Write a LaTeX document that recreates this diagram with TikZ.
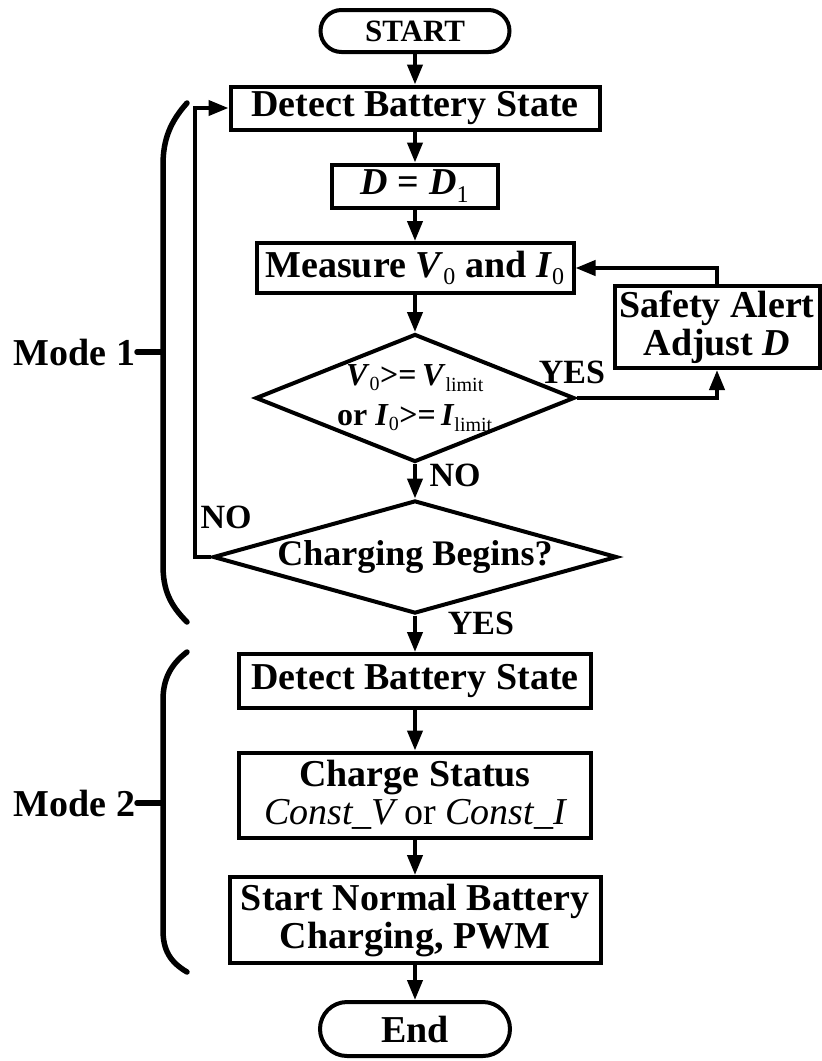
\documentclass[tikz,border=0pt]{standalone}
\usepackage{fontspec}
\setmainfont{Liberation Serif}
\usetikzlibrary{arrows.meta,shapes.geometric}
\newcommand{\bigtxt}{\fontsize{38}{38}\selectfont\bfseries}
\newcommand{\midtxt}{\fontsize{34}{34}\selectfont\bfseries}
\newcommand{\sub}[2][24]{\textsubscript{\mdseries\fontsize{#1}{#1}\selectfont #2}}

\begin{document}
\begin{tikzpicture}[x=1pt,y=-1pt,>={Triangle[length=20pt,width=15pt]},line width=4pt,
  term/.style={draw,rounded corners=21pt,minimum width=189pt,minimum height=42pt,inner sep=0pt,font=\fontsize{31}{31}\selectfont\bfseries},
  proc/.style={draw,minimum height=43pt,inner sep=0pt,align=center,font=\bigtxt},
  decision/.style={draw,diamond,inner sep=0pt},
  lbl/.style={inner sep=0pt,font=\midtxt},
  brace/.style={line width=5.5pt,line cap=round}]
  \useasboundingbox (0,0) rectangle (822,1061);
  % mode 1
  \node[term] (start) at (415,31) {START};
  \node[proc,minimum width=369pt] (det1) at (415,108) {Detect Battery State};
  \node[proc,minimum width=166pt] (dset) at (415,186) {\textit{D} = \textit{D}\sub{1}};
  \node[proc,minimum width=317pt,minimum height=50pt] (meas) at (415,268) {Measure \textit{V}\sub{0} and \textit{I}\sub{0}};
  \node[proc,minimum width=205pt,minimum height=82pt] (safe) at (717,327) {Safety Alert\\Adjust \textit{D}};
  \node[decision,minimum width=319pt,minimum height=128pt] (chk) at (415,398) {};
  \node[font=\fontsize{32}{40}\selectfont\bfseries,align=center,inner sep=0pt] (chkt) at (chk) {\textit{V}\sub[20]{0}>=\,\textit{V}\sub[20]{limit}\\or \textit{I}\sub[20]{0}>=\,\textit{I}\sub[20]{limit}};
  \node[decision,minimum width=404pt,minimum height=113pt] (beg) at (415,557) {};
  \node[font=\fontsize{36}{36}\selectfont\bfseries,inner sep=0pt] (begt) at (beg) {Charging Begins?};
  % mode 2
  \node[proc,minimum width=352pt,minimum height=54pt] (det2) at (415,681) {Detect Battery State};
  \node[proc,minimum width=352pt,minimum height=85pt] (stat) at (415,795) {Charge Status\\{\mdseries\itshape Const\_V} {\mdseries or} {\mdseries\itshape Const\_I}};
  \node[proc,minimum width=371pt,minimum height=86pt] (run) at (415,920) {Start Normal Battery\\Charging, PWM};
  \node[term,minimum width=190pt,minimum height=54pt,rounded corners=27pt,font=\bigtxt] (fin) at (415,1029) {End};
  % arrows
  \draw[->] (start) -- (det1);
  \draw[->] (det1) -- (dset);
  \draw[->] (dset) -- (meas);
  \draw[->] (meas) -- (chk);
  \draw[->] (chk.east) -| (safe.south);
  \draw[->] (safe.north) |- (meas.east);
  \draw[->] (chk) -- (beg);
  \coordinate (back) at (195,557);
  \draw[->] (beg.west) -- (back) |- (det1.west);
  \draw[->] (beg) -- (det2);
  \draw[->] (det2) -- (stat);
  \draw[->] (stat) -- (run);
  \draw[->] (run) -- (fin);
  \node[lbl,anchor=east] (yes1) at (607,372) {YES};
  \node[lbl] (no1) at (455,475) {NO};
  \node[lbl] (no2) at (226,517) {NO};
  \node[lbl] (yes2) at (481,623) {YES};
  % braces
  \node[font=\bigtxt,anchor=east,inner sep=0pt] (m1) at (137,352) {Mode 1};
  \node[font=\bigtxt,anchor=east,inner sep=0pt] (m2) at (137,803) {Mode 2};
  \draw[brace] (187,103) .. controls (170,122) and (163,140) .. (163,165) -- (163,565) .. controls (163,590) and (170,605) .. (187,622);
  \draw[brace] (187,652) .. controls (170,665) and (163,680) .. (163,700) -- (163,930) .. controls (163,950) and (170,962) .. (187,972);
  \draw[brace] (m1.east) -- (163,352);
  \draw[brace] (m2.east) -- (163,803);
\end{tikzpicture}
\end{document}
